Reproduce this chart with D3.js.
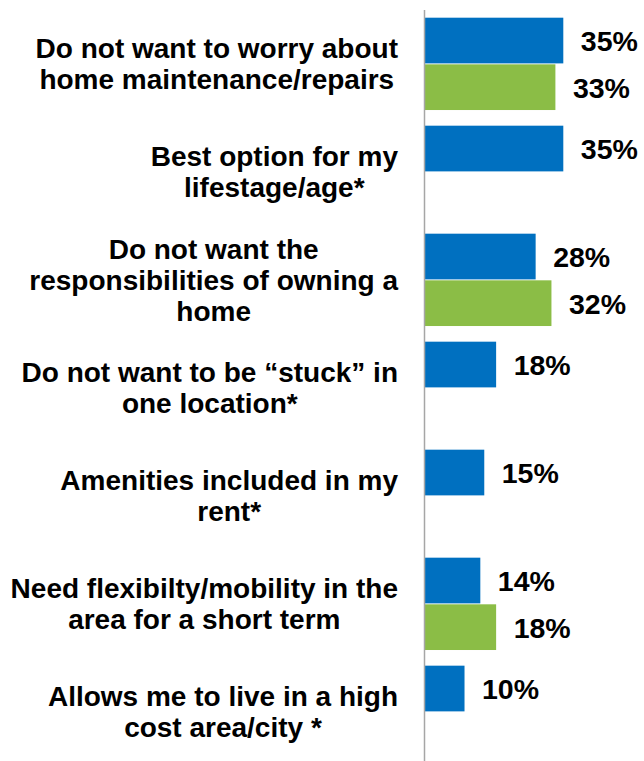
<!DOCTYPE html>
<html>
<head>
<meta charset="utf-8">
<script src="https://cdn.jsdelivr.net/npm/d3@7"></script>
<style>
  html, body { margin: 0; padding: 0; background: #fff; }
  svg { display: block; }
  text { font-family: "Liberation Sans", Arial, sans-serif; font-weight: bold; fill: #000; }
</style>
</head>
<body>
<svg id="chart" width="644" height="761"></svg>
<script>
const categories = [
  "Do not want to worry about\nhome maintenance/repairs",
  "Best option for my\nlifestage/age*",
  "Do not want the\nresponsibilities of owning a\nhome",
  "Do not want to be \u201cstuck\u201d in\none location*",
  "Amenities included in my\nrent*",
  "Need flexibilty/mobility in the\narea for a short term",
  "Allows me to live in a high\ncost area/city *"
];
const seriesNames = ["A", "B"];
const seriesA = [35, 35, 28, 18, 15, 14, 10];
const seriesB = [33, null, 32, null, null, 18, null];
const colors = ["#0070C0", "#8BBD46"];

const svg = d3.select("#chart");
const axisX = 424.5;

const y = d3.scaleBand()
  .domain(categories)
  .range([9.7, 766])
  .paddingInner(0.145)
  .paddingOuter(0.074);

const ySub = d3.scaleBand()
  .domain(seriesNames)
  .range([0, y.bandwidth()])
  .paddingInner(0.02);

const x = d3.scaleLinear().domain([0, 35]).range([0, 138.3]);

const rows = [];
categories.forEach((c, i) => {
  [seriesA, seriesB].forEach((s, j) => {
    if (s[i] != null) rows.push({cat: c, series: seriesNames[j], value: s[i], color: colors[j]});
  });
});

svg.selectAll("rect.bar").data(rows).join("rect")
  .attr("class", "bar")
  .attr("x", axisX + 0.5)
  .attr("y", d => y(d.cat) + ySub(d.series))
  .attr("width", d => x(d.value))
  .attr("height", ySub.bandwidth())
  .attr("fill", d => d.color);

svg.selectAll("text.val").data(rows).join("text")
  .attr("class", "val")
  .attr("x", d => axisX + x(d.value) + 18)
  .attr("y", d => y(d.cat) + ySub(d.series) + ySub.bandwidth() / 2 + 10.8)
  .attr("font-size", 28.5)
  .text(d => d.value + "%");

// axis line
svg.append("line")
  .attr("x1", axisX).attr("x2", axisX)
  .attr("y1", 10).attr("y2", 761)
  .attr("stroke", "#a6a6a6")
  .attr("stroke-width", 1.5);

// category labels: block right-aligned, lines centered in block
const labelRight = 398;
const lineH = 31;
const fs = 28;
categories.forEach(c => {
  const lines = c.split("\n");
  const g = svg.append("g");
  const texts = lines.map(l => g.append("text").attr("font-size", fs).text(l));
  const maxW = d3.max(texts, t => t.node().getComputedTextLength());
  const cx = labelRight - maxW / 2;
  const center = y(c) + y.bandwidth() / 2;
  const n = lines.length;
  texts.forEach((t, i) => {
    t.attr("text-anchor", "middle")
     .attr("x", cx)
     .attr("y", center + (i - (n - 1) / 2) * lineH + fs * 0.36);
  });
});
</script>
</body>
</html>
